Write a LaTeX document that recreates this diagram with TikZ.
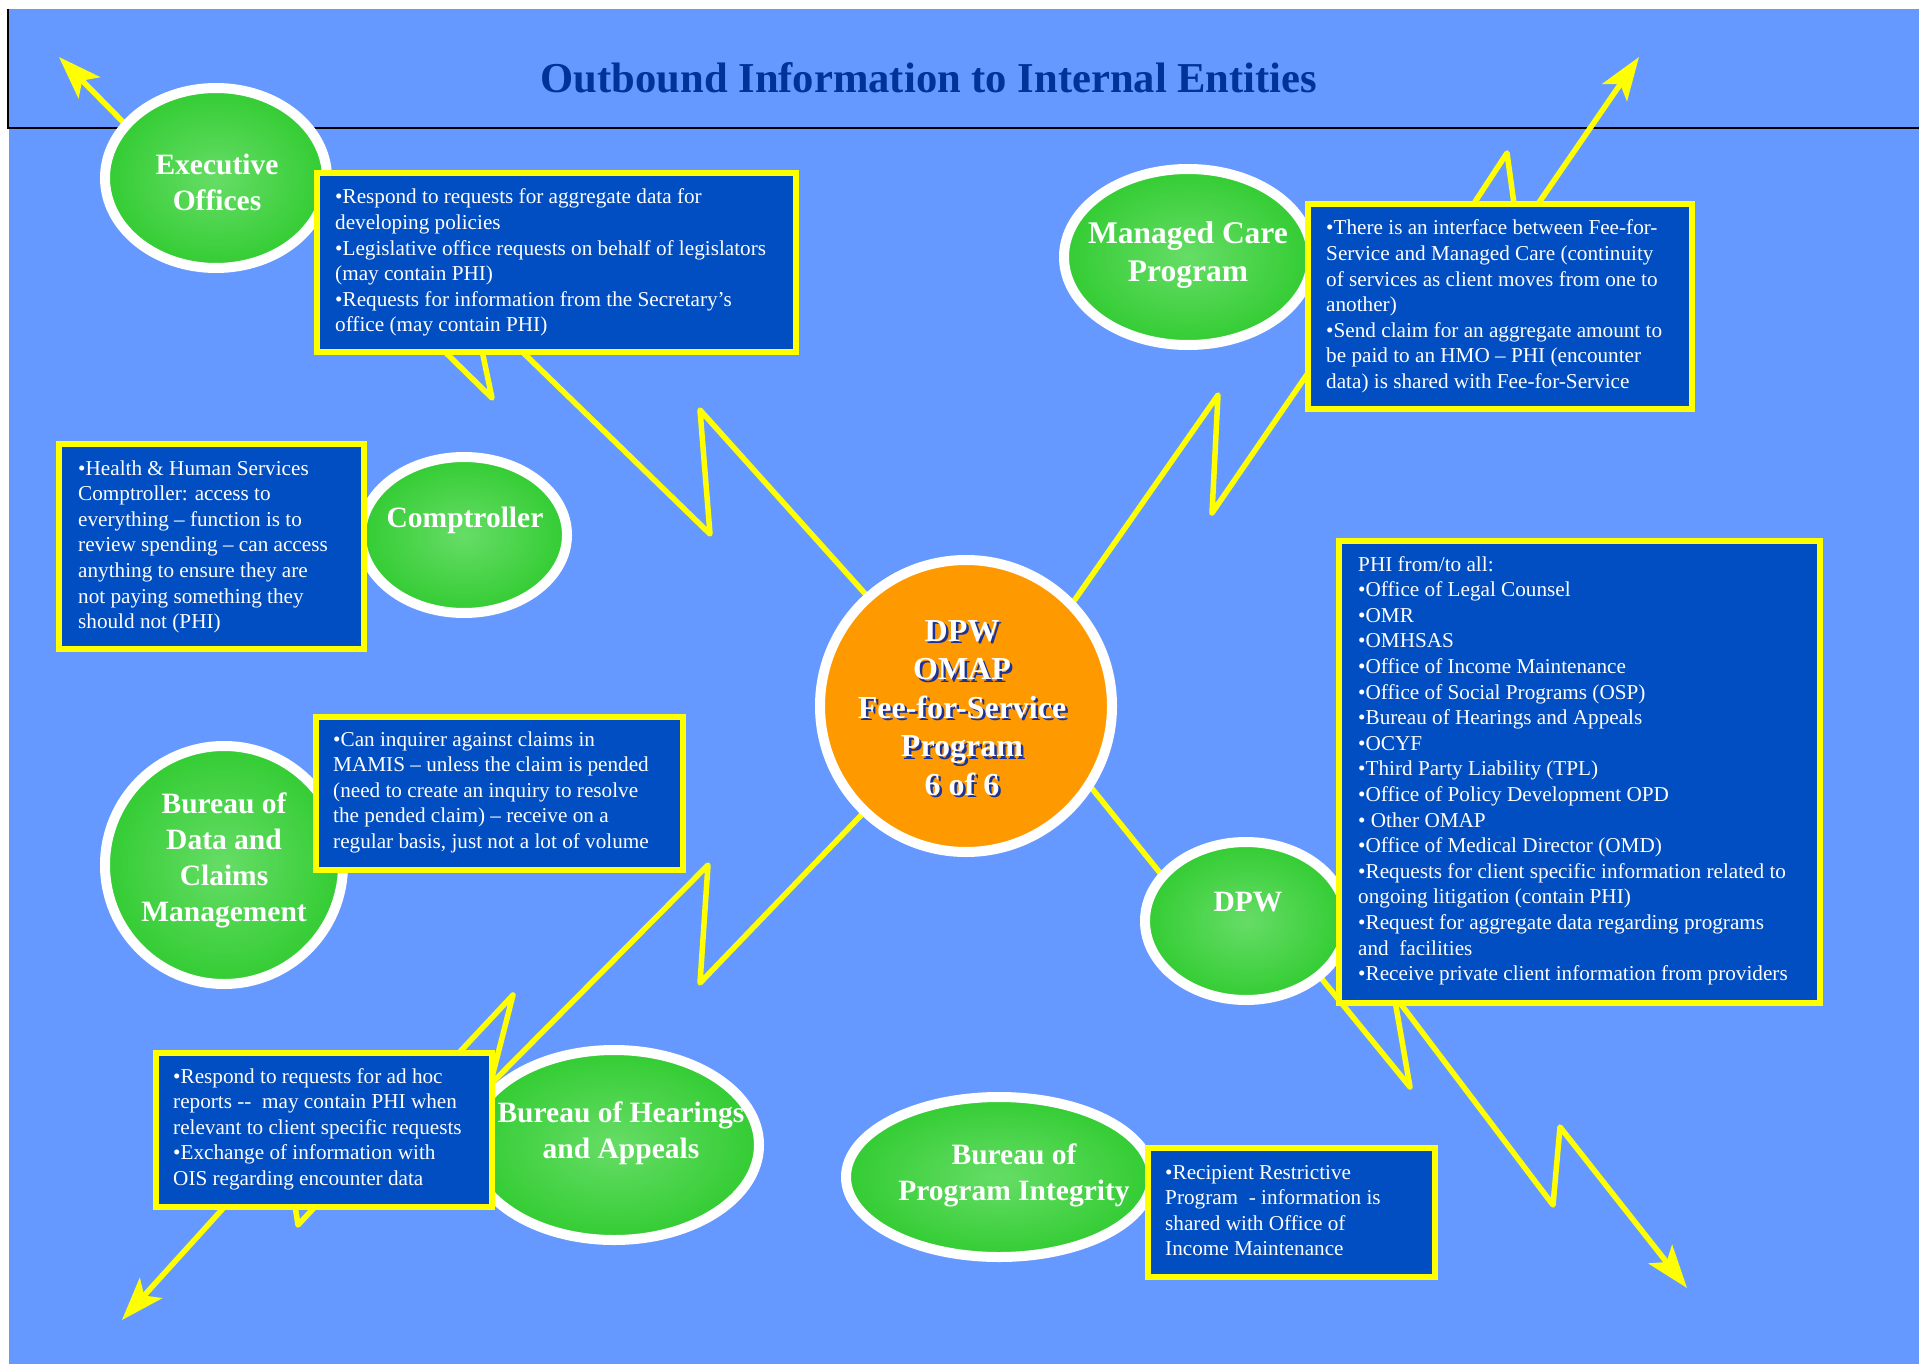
\documentclass[tikz,border=0pt]{standalone}
\usepackage{fontspec}
\setmainfont{Liberation Serif}
\usetikzlibrary{shapes.geometric,arrows.meta}
\definecolor{bgblue}{HTML}{6699FF}
\definecolor{boxblue}{HTML}{004EC2}
\definecolor{greenbase}{HTML}{33CC33}
\definecolor{greenhi}{HTML}{66DD66}
\definecolor{centerorange}{HTML}{FF9900}
\definecolor{titleblue}{HTML}{003399}
\definecolor{shadowblue}{HTML}{1A3399}
\definecolor{boltyellow}{HTML}{FFFF00}
\pgfdeclarelayer{backg}
\pgfdeclarelayer{bolts}
\pgfsetlayers{backg,bolts,main}
\begin{document}
\begin{tikzpicture}[x=1pt,y=-1pt,
  bolt/.style={draw=boltyellow, line width=5.5pt, line join=round, line cap=round},
  arrowend/.style={-{Stealth[length=43pt,width=30pt,inset=10pt]}},
  ell/.style={ellipse, draw=white, line width=10pt, inner sep=0pt, inner color=greenhi, outer color=greenbase},
  infobox/.style={draw=boltyellow, line width=6pt, fill=boxblue, inner sep=0pt, anchor=north west},
  btxt/.style={text=white, inner sep=0pt, anchor=base west, font=\fontsize{21.2}{25.6}\selectfont},
  elab/.style={text=white, inner sep=0pt, anchor=base, font=\bfseries\fontsize{29.5}{36}\selectfont},
  ctxt/.style={inner sep=0pt, anchor=base, font=\bfseries\fontsize{32}{38.5}\selectfont}]
\useasboundingbox (0,0) rectangle (1919,1364);
\begin{pgfonlayer}{backg}
  \fill[white] (0,0) rectangle (1919,1364);
  \fill[bgblue] (9,9) rectangle (1919,1364);
  \draw[black, line width=2pt] (8,9) -- (8,128) -- (1919,128);
\end{pgfonlayer}

\node[font=\bfseries\fontsize{42.6}{50}\selectfont, text=titleblue, anchor=base, inner sep=0pt] (title) at (929,93) {Outbound Information to Internal Entities};

% central circle
\node[circle, draw=white, line width=10pt, fill=centerorange, minimum size=292pt, inner sep=0pt] (c) at (966,706) {};

% satellite ellipses
\node[ell, minimum width=222pt, minimum height=180pt] (eo) at (216,178) {};
\node[ell, minimum width=248pt, minimum height=176pt] (mc) at (1188,257) {};
\node[ell, minimum width=206pt, minimum height=156pt] (comp) at (464,535) {};
\node[ell, minimum width=238pt, minimum height=238pt] (dcm) at (224,865) {};
\node[ell, minimum width=290pt, minimum height=190pt] (bha) at (614,1145) {};
\node[ell, minimum width=202pt, minimum height=158pt] (dpw) at (1246,921) {};
\node[ell, minimum width=306pt, minimum height=160pt] (bpi) at (999,1177) {};

% info boxes
\node[infobox, minimum width=479pt, minimum height=179pt] (b1) at (314,170) {};
\node[infobox, minimum width=384pt, minimum height=205pt] (b2) at (1305,201) {};
\node[infobox, minimum width=305pt, minimum height=205pt] (b3) at (56,441) {};
\node[infobox, minimum width=367pt, minimum height=153pt] (b4) at (313,714) {};
\node[infobox, minimum width=336pt, minimum height=154pt] (b5) at (153,1050) {};
\node[infobox, minimum width=481pt, minimum height=462pt] (b6) at (1336,538) {};
\node[infobox, minimum width=287pt, minimum height=129pt] (b7) at (1145,1145) {};

% ellipse labels
\node[elab] (eo-t) at (217,175) {\begin{tabular}[t]{@{}c@{}}Executive\\Offices\end{tabular}};
\node[elab, font=\bfseries\fontsize{31.5}{38}\selectfont] (mc-t) at (1188,244) {\begin{tabular}[t]{@{}c@{}}Managed Care\\Program\end{tabular}};
\node[elab] (comp-t) at (465,527) {Comptroller};
\node[elab] (dcm-t) at (224,813) {\begin{tabular}[t]{@{}c@{}}Bureau of\\Data and\\Claims\\Management\end{tabular}};
\node[elab] (bha-t) at (621,1122) {\begin{tabular}[t]{@{}c@{}}Bureau of Hearings\\and Appeals\end{tabular}};
\node[elab] (dpw-t) at (1248,911) {DPW};
\node[elab] (bpi-t) at (1014,1164) {\begin{tabular}[t]{@{}c@{}}Bureau of\\Program Integrity\end{tabular}};

% center label with shadow
\node[ctxt, text=shadowblue] (c-s) at (964.5,643.5) {\begin{tabular}[t]{@{}c@{}}DPW\\OMAP\\Fee-for-Service\\Program\\6 of 6\end{tabular}};
\node[ctxt, text=white] (c-t) at (962,641) {\begin{tabular}[t]{@{}c@{}}DPW\\OMAP\\Fee-for-Service\\Program\\6 of 6\end{tabular}};

% box texts
\node[btxt] (t1) at (335,204) {\begin{tabular}[t]{@{}l@{}}•Respond to requests for aggregate data for\\developing policies\\•Legislative office requests on behalf of legislators\\(may contain PHI)\\•Requests for information from the Secretary’s\\office (may contain PHI)\end{tabular}};
\node[btxt] (t2) at (1326,235) {\begin{tabular}[t]{@{}l@{}}•There is an interface between Fee-for-\\Service and Managed Care (continuity\\of services as client moves from one to\\another)\\•Send claim for an aggregate amount to\\be paid to an HMO – PHI (encounter\\data) is shared with Fee-for-Service\end{tabular}};
\node[btxt] (t3) at (78,475) {\begin{tabular}[t]{@{}l@{}}•Health \& Human Services\\Comptroller: access to\\everything – function is to\\review spending – can access\\anything to ensure they are\\not paying something they\\should not (PHI)\end{tabular}};
\node[btxt] (t4) at (333,746) {\begin{tabular}[t]{@{}l@{}}•Can inquirer against claims in\\MAMIS – unless the claim is pended\\(need to create an inquiry to resolve\\the pended claim) – receive on a\\regular basis, just not a lot of volume\end{tabular}};
\node[btxt] (t5) at (173,1083) {\begin{tabular}[t]{@{}l@{}}•Respond to requests for ad hoc\\reports -{}-\ \ may contain PHI when\\relevant to client specific requests\\•Exchange of information with\\OIS regarding encounter data\end{tabular}};
\node[btxt] (t6) at (1358,571) {\begin{tabular}[t]{@{}l@{}}PHI from/to all:\\•Office of Legal Counsel\\•OMR\\•OMHSAS\\•Office of Income Maintenance\\•Office of Social Programs (OSP)\\•Bureau of Hearings and Appeals\\•OCYF\\•Third Party Liability (TPL)\\•Office of Policy Development OPD\\• Other OMAP\\•Office of Medical Director (OMD)\\•Requests for client specific information related to\\ongoing litigation (contain PHI)\\•Request for aggregate data regarding programs\\and\ \ facilities\\•Receive private client information from providers\end{tabular}};
\node[btxt] (t7) at (1165,1179) {\begin{tabular}[t]{@{}l@{}}•Recipient Restrictive\\Program\ \ - information is\\shared with Office of\\Income Maintenance\end{tabular}};

% bolt waypoints
\coordinate (ul1) at (700,410);  \coordinate (ul2) at (710,534);
\coordinate (ul3) at (472,303);  \coordinate (ul4) at (492,398);
\coordinate (ul5) at (290,200);  \coordinate (ul6) at (190,190);
\coordinate (ultip) at (59,57);
\coordinate (ur0) at (1046,641); \coordinate (ur1) at (1218,395);
\coordinate (ur2) at (1212,513); \coordinate (ur3) at (1380,268);
\coordinate (ur4) at (1450,240); \coordinate (ur5) at (1507,153);
\coordinate (ur6) at (1518,233); \coordinate (urtip) at (1639,57);
\coordinate (ll1) at (700,983);  \coordinate (ll2) at (708,865);
\coordinate (ll3) at (490,1085); \coordinate (ll4) at (513,995);
\coordinate (ll5) at (298,1225); \coordinate (ll6) at (285,1140);
\coordinate (lltip) at (122,1320);
\coordinate (lr0) at (1069,760); \coordinate (lr1) at (1206,930);
\coordinate (lr2) at (1241,880); \coordinate (lr3) at (1410,1087);
\coordinate (lr4) at (1394,995); \coordinate (lr5) at (1553,1205);
\coordinate (lr6) at (1560,1127); \coordinate (lrtip) at (1687,1288);

\begin{pgfonlayer}{bolts}
  \draw[bolt, arrowend] (c.center) -- (ul1) -- (ul2) -- (ul3) -- (ul4) -- (ul5) -- (ul6) -- (ultip);
  \draw[bolt, arrowend] (c.center) -- (ur0) -- (ur1) -- (ur2) -- (ur3) -- (ur4) -- (ur5) -- (ur6) -- (urtip);
  \draw[bolt, arrowend] (c.center) -- (ll1) -- (ll2) -- (ll3) -- (ll4) -- (ll5) -- (ll6) -- (lltip);
  \draw[bolt, arrowend] (c.center) -- (lr0) -- (lr1) -- (lr2) -- (lr3) -- (lr4) -- (lr5) -- (lr6) -- (lrtip);
\end{pgfonlayer}
\end{tikzpicture}
\end{document}
